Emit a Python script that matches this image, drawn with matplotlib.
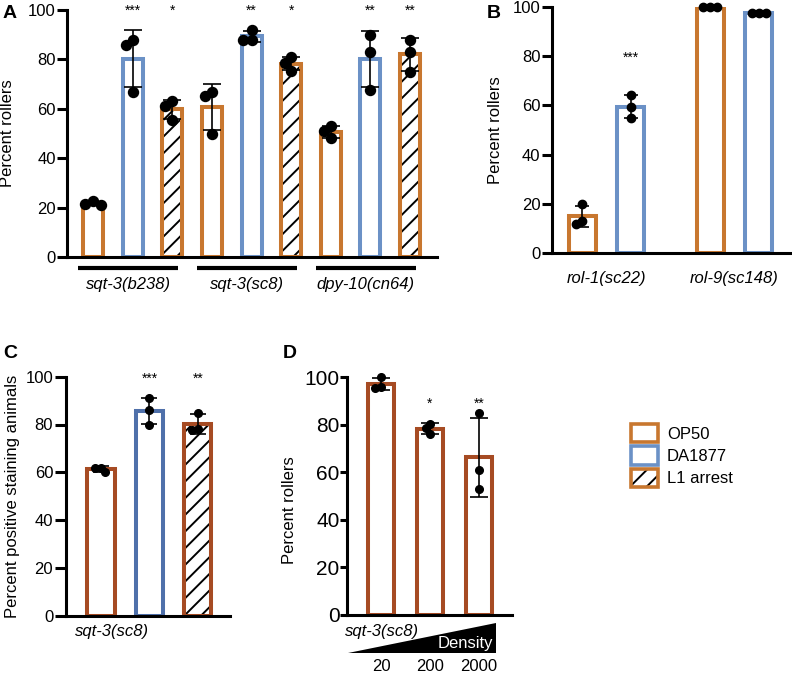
import numpy as np
import matplotlib.pyplot as plt
import matplotlib.transforms as mtransforms
from matplotlib.patches import Patch, Polygon
from matplotlib.legend_handler import HandlerTuple

plt.rcParams['font.family'] = ['Liberation Sans', 'DejaVu Sans']
plt.rcParams['hatch.linewidth'] = 1.4

# ---- data: percent, three replicates per bar (bar = mean, error = SD) ----
a_genotypes = ['sqt-3(b238)', 'sqt-3(sc8)', 'dpy-10(cn64)']
a_op50 = [[21, 22.5, 21.5], [65, 67, 50], [53, 51, 48]]
a_da1877 = [[86, 67, 88], [88, 92, 88], [90, 83, 67.5]]
a_l1 = [[61, 55.5, 63], [81, 78.5, 75.5], [88, 83, 75]]
a_stars_op50 = ['', '', '']
a_stars_da1877 = ['***', '**', '**']
a_stars_l1 = ['*', '*', '**']

b_genotypes = ['rol-1(sc22)', 'rol-9(sc148)']
b_op50 = [[12, 20, 13], [100, 100, 100]]
b_da1877 = [[64, 59.5, 55], [97.5, 97.5, 97.5]]
b_stars_da1877 = ['***', '']

c_genotype = 'sqt-3(sc8)'
c_points = [[60, 62, 62], [91, 86, 80], [85, 77.5, 78]]
c_stars = ['', '***', '**']

d_genotype = 'sqt-3(sc8)'
d_density = ['20', '200', '2000']
d_points = [[95.5, 100, 96], [80.5, 76, 78.5], [85, 61, 53]]
d_stars = ['', '*', '**']

legend_labels = ['OP50', 'DA1877', 'L1 arrest']

# ---- styles ----
ORANGE = '#c8772f'
BLUE = '#6b91c6'
BROWN = '#a64b23'
BLUE_C = '#4f70aa'
W, H = 792, 673

fig = plt.figure(figsize=(W / 100, H / 100), dpi=100)


def box(l, t, r, b):
    # pixel box -> figure fraction
    return [l / W, 1 - b / H, (r - l) / W, (b - t) / H]


def style(ax, fs, ticklen, pad):
    for s in ['top', 'right']:
        ax.spines[s].set_visible(False)
    for s in ['left', 'bottom']:
        ax.spines[s].set_linewidth(2.2)
    ax.set_ylim(0, 100)
    ax.set_yticks(range(0, 101, 20))
    ax.tick_params(axis='y', length=ticklen, width=2.2, labelsize=fs, pad=pad)
    ax.tick_params(axis='x', length=0)


def swarm(ax, vals, ms):
    # simple beeswarm in pixel space so dots do not overlap
    bb = ax.get_position()
    wpx = bb.width * W
    hpx = bb.height * H
    x0, x1 = ax.get_xlim()
    y0, y1 = ax.get_ylim()
    sx = wpx / (x1 - x0)
    sy = hpx / (y1 - y0)
    d = ms * 100 / 72 * 0.85
    off = np.zeros(len(vals))
    placed = []
    for i in np.argsort(vals)[::-1]:
        y = vals[i] * sy
        cands = [0.0]
        for px, py in placed:
            dy = abs(y - py)
            if dy < d:
                s = np.sqrt(d * d - dy * dy)
                cands += [px - s, px + s]
        valid = [c for c in cands
                 if all((c - px) ** 2 + (y - py) ** 2 >= d * d - 1e-6 for px, py in placed)]
        best = min(valid, key=lambda c: (abs(c), c))
        placed.append((best, y))
        off[i] = best / sx
    return off


def draw_bar(ax, x, pts, color, width, ms, cap, hatch=False, lw=2.9):
    pts = np.array(pts, dtype=float)
    mean = pts.mean()
    sd = pts.std(ddof=1)
    if hatch:
        ax.bar(x, mean, width, color='white', edgecolor='black', linewidth=0,
               hatch='//', zorder=2)
    ax.bar(x, mean, width, facecolor='none' if hatch else 'white',
           edgecolor=color, linewidth=lw, zorder=2.1)
    ax.errorbar(x, mean, yerr=sd, fmt='none', ecolor='black', elinewidth=1.2,
                capsize=cap, capthick=1.2, zorder=3)
    ax.plot(x + swarm(ax, pts, ms), pts, 'o', color='black', ms=ms,
            zorder=4, clip_on=False)


def stars(ax, x, y, s, fs=10):
    if s:
        ax.text(x, y, s, ha='center', va='baseline', fontsize=fs)


# ---------------- panel A ----------------
axA = fig.add_axes(box(67, 10, 437, 257))
style(axA, 12, 7, 1)
axA.set_xlim(-0.657, 8.68)
axA.set_xticks([])
axA.set_ylabel('Percent rollers', fontsize=12)
axA.yaxis.set_label_coords(-0.14, 0.5)
trA = mtransforms.blended_transform_factory(axA.transData, axA.transAxes)
for g in range(3):
    x = 3 * g
    draw_bar(axA, x, a_op50[g], ORANGE, 0.505, 7.2, 6.5)
    draw_bar(axA, x + 1, a_da1877[g], BLUE, 0.505, 7.2, 6.5)
    draw_bar(axA, x + 2, a_l1[g], ORANGE, 0.505, 7.2, 6.5, hatch=True)
    stars(axA, x, 98, a_stars_op50[g])
    stars(axA, x + 1, 98, a_stars_da1877[g])
    stars(axA, x + 2, 98, a_stars_l1[g])
    l0, l1 = x - 0.38, x + 2.15
    axA.plot([l0, l1], [-0.0445, -0.0445], color='black', lw=3,
             transform=trA, clip_on=False, solid_capstyle='butt')
    axA.text((l0 + l1) / 2, -0.113, a_genotypes[g], transform=trA,
             ha='center', va='center', fontsize=12, style='italic')
fig.text(3 / W, 1 - 14 / H, 'A', fontsize=14, fontweight='bold', va='center')

# ---------------- panel B ----------------
axB = fig.add_axes(box(551.7, 6.7, 790, 253.3))
style(axB, 12, 7, 1)
axB.set_xlim(-0.635, 4.28)
b_centers = [0.5, 3.135]
axB.set_xticks(b_centers, b_genotypes, fontsize=12, style='italic')
axB.tick_params(axis='x', pad=13)
axB.set_ylabel('Percent rollers', fontsize=12)
axB.yaxis.set_label_coords(-0.204, 0.5)
for g, c in enumerate(b_centers):
    draw_bar(axB, c - 0.5, b_op50[g], ORANGE, 0.557, 6, 5)
    draw_bar(axB, c + 0.5, b_da1877[g], BLUE, 0.557, 6, 5)
    stars(axB, c + 0.5, 77.8, b_stars_da1877[g])
fig.text(487 / W, 1 - 14 / H, 'B', fontsize=14, fontweight='bold', va='center')

# ---------------- panel C ----------------
axC = fig.add_axes(box(65.7, 376.7, 230, 615.7))
style(axC, 12, 8, 1)
axC.set_xlim(-0.728, 2.66)
axC.set_xticks([])
axC.set_ylabel('Percent positive staining animals', fontsize=12)
axC.yaxis.set_label_coords(-0.278, 0.5)
c_colors = [BROWN, BLUE_C, BROWN]
for i, pts in enumerate(c_points):
    draw_bar(axC, i, pts, c_colors[i], 0.557, 5.5, 5.5, hatch=(i == 2))
    stars(axC, i, 97.4, c_stars[i])
trC = mtransforms.blended_transform_factory(axC.transData, axC.transAxes)
axC.text(-0.536, -0.067, c_genotype, transform=trC, ha='left', va='center',
         fontsize=12, style='italic')
fig.text(3 / W, 1 - 354 / H, 'C', fontsize=14, fontweight='bold', va='center')

# ---------------- panel D ----------------
axD = fig.add_axes(box(347.3, 377.3, 511.7, 615))
style(axD, 15, 5, 0.5)
axD.set_xlim(-0.688, 2.667)
axD.set_xticks(range(len(d_density)), d_density, fontsize=12)
axD.tick_params(axis='x', pad=32)
axD.set_ylabel('Percent rollers', fontsize=12)
axD.yaxis.set_label_coords(-0.306, 0.44)
for i, pts in enumerate(d_points):
    draw_bar(axD, i, pts, BROWN, 0.55, 5.5, 6.5)
    stars(axD, i, 87, d_stars[i])
trD = mtransforms.blended_transform_factory(axD.transData, axD.transAxes)
xl, xr = -0.67, len(d_points) - 1 + 0.35
axD.add_patch(Polygon([[xl, -0.16], [xr, -0.16], [xr, -0.034]], closed=True,
                      facecolor='black', edgecolor='none', transform=trD,
                      clip_on=False))
axD.text(-0.735, -0.0715, d_genotype, transform=trD, ha='left', va='center',
         fontsize=12, style='italic')
axD.text(xr - 0.06, -0.118, 'Density', transform=trD, ha='right', va='center',
         fontsize=12, color='white')
fig.text(283 / W, 1 - 353 / H, 'D', fontsize=14, fontweight='bold', va='center')

# ---------------- legend ----------------
handles = [Patch(facecolor='white', edgecolor=ORANGE, linewidth=2.6),
           Patch(facecolor='white', edgecolor=BLUE, linewidth=2.6),
           (Patch(facecolor='white', edgecolor='black', linewidth=0, hatch='//'),
            Patch(facecolor='none', edgecolor=ORANGE, linewidth=2.6))]
fig.legend(handles, legend_labels, loc='upper left',
           bbox_to_anchor=(631 / W, 1 - 424 / H), frameon=False,
           borderpad=0, borderaxespad=0, handlelength=1.6, handleheight=1.3,
           labelspacing=0.25, handletextpad=0.55, fontsize=12,
           handler_map={tuple: HandlerTuple(ndivide=1)})

fig.savefig('out.png', dpi=100)
